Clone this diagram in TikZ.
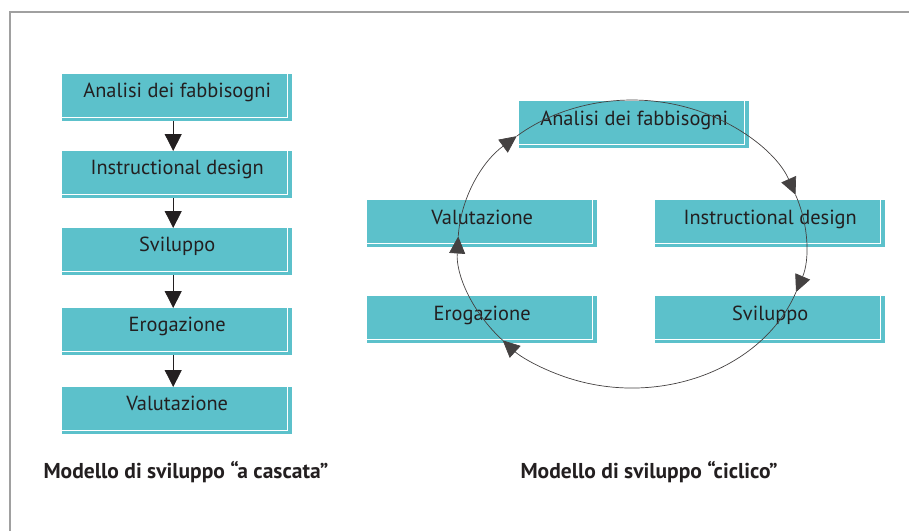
\documentclass[tikz,border=0pt]{standalone}
\usepackage{fontspec}
\setmainfont{PT Sans}
\usetikzlibrary{arrows.meta}
\definecolor{boxteal}{RGB}{92,193,203}
\definecolor{ink}{RGB}{35,31,32}
\definecolor{framegray}{RGB}{160,160,160}
\begin{document}
\begin{tikzpicture}[x=1pt,y=-1pt,
  stepbox/.style={rectangle, fill=boxteal, minimum width=230pt, minimum height=47pt,
    inner sep=0pt, anchor=north west,
    font=\fontsize{20.4}{24}\selectfont, text=ink,
    path picture={
      \draw[white, line width=0.8pt]
        ([yshift=3.5pt]path picture bounding box.south west)
        -- ([xshift=-5pt,yshift=3.5pt]path picture bounding box.south east)
        -- ([xshift=-5pt]path picture bounding box.north east);
    }},
  flow/.style={draw=ink, line width=0.8pt, -{Triangle[length=17pt,width=17pt]}},
  cyc/.style={draw=ink!85, line width=0.7pt, -{Triangle[length=17pt,width=16pt]}},
  caption/.style={anchor=west, font=\bfseries\fontsize{21.5}{25}\selectfont, text=ink}]
  \useasboundingbox (0,0) rectangle (909,531);
  % outer frame
  \draw[framegray, line width=1.5pt] (10,531) -- (10,12) -- (909,12);

  % waterfall model
  \node[stepbox] (l1) at (62,74)  {\raisebox{15pt}{Analisi dei fabbisogni}};
  \node[stepbox] (l2) at (62,151) {\raisebox{15pt}{Instructional design}};
  \node[stepbox] (l3) at (62,228) {\raisebox{15pt}{Sviluppo}};
  \node[stepbox] (l4) at (62,308) {\raisebox{15pt}{Erogazione}};
  \node[stepbox] (l5) at (62,387) {\raisebox{15pt}{Valutazione}};
  \foreach \a/\b in {l1/l2,l2/l3,l3/l4,l4/l5}
    \draw[flow] ([xshift=-4pt]\a.south) -- ([xshift=-4pt]\b.north);

  % cyclic model
  \node[stepbox] (r1) at (519,101) {\raisebox{13pt}{Analisi dei fabbisogni}};
  \node[stepbox] (r2) at (655,200) {\raisebox{13pt}{Instructional design}};
  \node[stepbox] (r3) at (655,296) {\raisebox{13pt}{Sviluppo}};
  \node[stepbox] (r4) at (367,296) {\raisebox{13pt}{Erogazione}};
  \node[stepbox] (r5) at (367,200) {\raisebox{13pt}{Valutazione}};
  \coordinate (ec) at (632,244);
  \foreach \s/\e in {177/131.5, 131.5/20, 20/-19.5, -19.5/-138, -138/-183}
    \draw[cyc] (ec) ++(\s:174pt and 144pt)
      arc[start angle=\s, end angle=\e, x radius=174pt, y radius=144pt];

  % captions
  \node[caption] (c1) at (40,472) {Modello di sviluppo “a cascata”};
  \node[caption] (c2) at (517,472) {Modello di sviluppo “ciclico”};
\end{tikzpicture}
\end{document}
